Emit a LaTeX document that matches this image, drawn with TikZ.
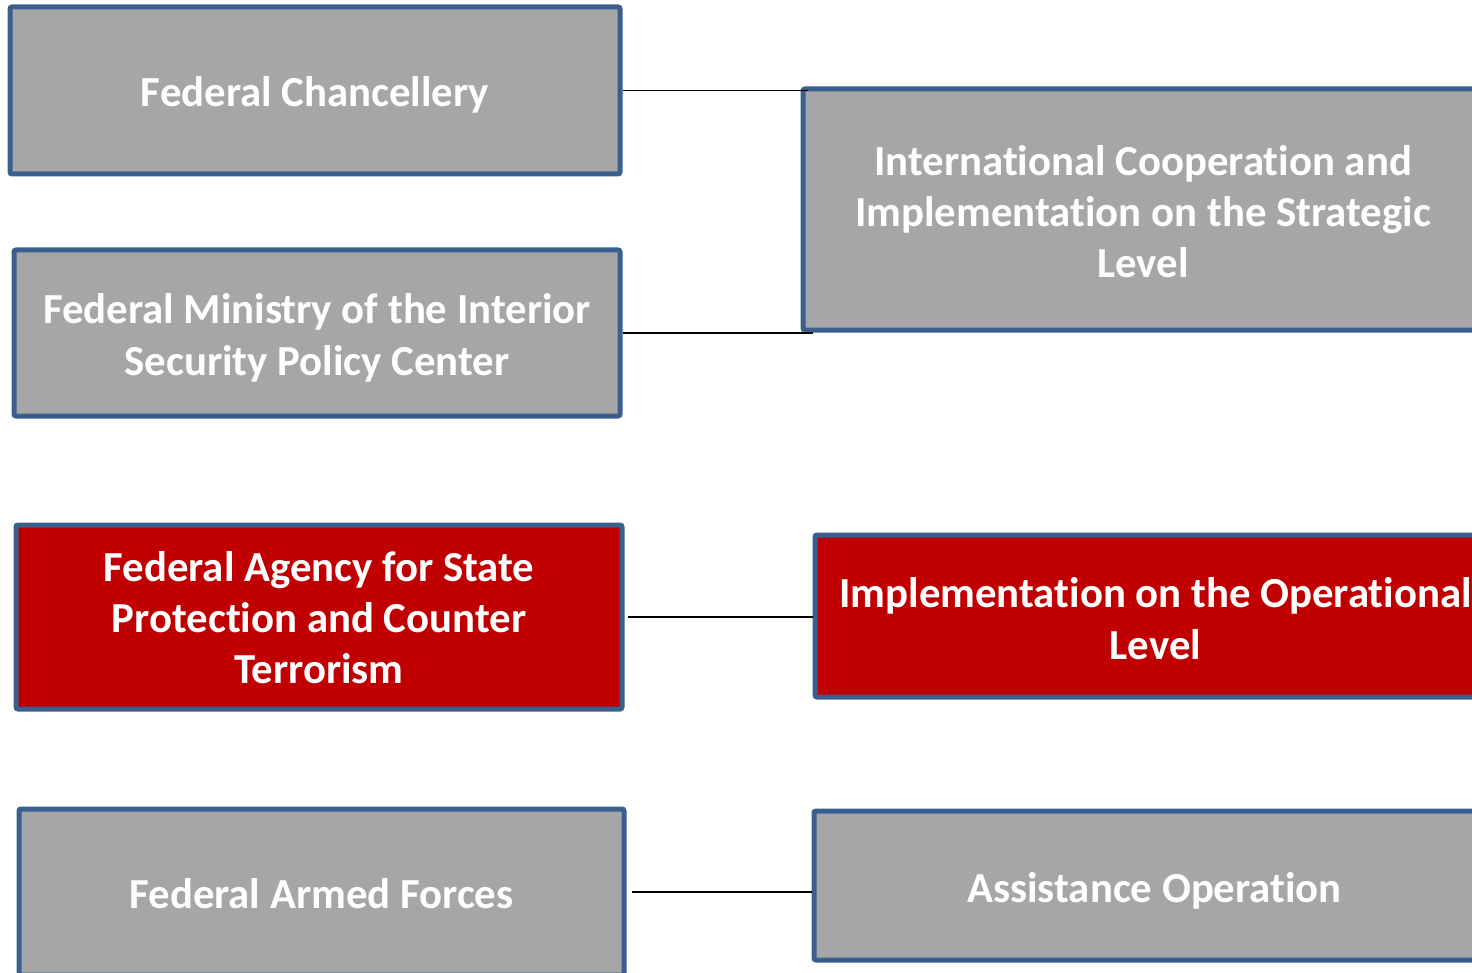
\documentclass[tikz,border=0pt]{standalone}
\usepackage{fontspec}
\setmainfont{Carlito}[RawFeature={-liga;-rlig;-clig;-calt;-dlig}]
\definecolor{boxgray}{HTML}{A6A6A6}
\definecolor{boxred}{HTML}{C00000}
\definecolor{boxedge}{HTML}{3A5F8E}
\newcommand{\boxtext}[2]{\raisebox{\dimexpr#1-1pt\relax}[0pt][0pt]{\begin{tabular}[b]{@{}c@{}}#2\end{tabular}}}
\newcommand{\nolig}{\kern0pt }
\begin{document}
\begin{tikzpicture}[x=0.5pt,y=-0.5pt,
  basebox/.style={draw=boxedge, line width=2.5pt, rounded corners=1pt,
    text=white, font=\fontsize{21.4}{25.7}\selectfont\bfseries, inner sep=0pt},
  graybox/.style={basebox, fill=boxgray},
  redbox/.style={basebox, fill=boxred},
  conn/.style={draw=black, line width=0.9pt}]
\useasboundingbox (0,0) rectangle (1472,973);
\clip (0,0) rectangle (1472,973);
\node[graybox, minimum width=305pt, minimum height=83.5pt] (b1) at (315,90.5) {\boxtext{-7pt}{Federal Chancellery}};
\node[graybox, minimum width=303pt, minimum height=83pt] (b2) at (317,333) {\boxtext{-20pt}{Federal Ministry of the Interior\\Security Policy Center}};
\node[redbox, minimum width=303pt, minimum height=92pt] (b3) at (319,617) {\boxtext{-32.4pt}{Federal Agency for State\\Protection and Counter\\Terrorism}};
\node[graybox, minimum width=302.5pt, minimum height=83pt] (b4) at (321.5,892) {\boxtext{-7pt}{Federal Armed Forces}};
\node[graybox, minimum width=340pt, minimum height=120.5pt] (ic) at (1143,209.5) {\boxtext{-33.2pt}{Internat\nolig ional Cooperat\nolig ion and\\Implementat\nolig ion on the Strategic\\Level}};
\node[redbox, minimum width=340.5pt, minimum height=81pt] (im) at (1155.5,616) {\boxtext{-20.5pt}{Implementat\nolig ion on the Operat\nolig ional\\Level}};
\node[graybox, minimum width=340.5pt, minimum height=74.5pt] (as) at (1154.5,885.5) {\boxtext{-7.7pt}{Assistance Operat\nolig ion}};
\draw[conn] (b1.east) -- ([xshift=3.5pt]b1.east -| ic.west);
\draw[conn] (b2.east) -- ([xshift=6pt]b2.east -| ic.west);
\draw[conn] ([xshift=1.5pt]b3.east) -- (b3.east -| im.west);
\draw[conn] ([xshift=2.5pt]b4.east) -- (b4.east -| as.west);
\end{tikzpicture}
\end{document}
